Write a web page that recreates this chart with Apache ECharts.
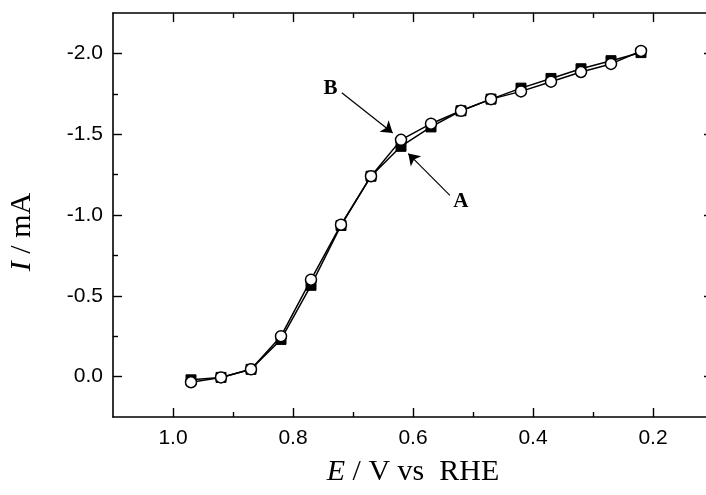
<!DOCTYPE html>
<html>
<head>
<meta charset="utf-8">
<script src="https://cdn.jsdelivr.net/npm/echarts@6/dist/echarts.min.js"></script>
<style>html,body{margin:0;padding:0;background:#fff;}#c{width:706px;height:495px;}</style>
</head>
<body>
<div id="c"></div>
<script>
// Data
const potentials = [0.97, 0.92, 0.87, 0.82, 0.77, 0.72, 0.67, 0.62, 0.57, 0.52, 0.47, 0.42, 0.37, 0.32, 0.27, 0.22];
const currentA = [0.02, 0.005, -0.045, -0.23, -0.565, -0.935, -1.24, -1.425, -1.545, -1.645, -1.717, -1.785, -1.845, -1.905, -1.955, -2.005];
const currentB = [0.035, 0.005, -0.045, -0.25, -0.60, -0.94, -1.24, -1.465, -1.565, -1.645, -1.717, -1.765, -1.825, -1.885, -1.935, -2.015];
const xMajorTicks = [0.2, 0.4, 0.6, 0.8, 1.0];
const xMinorTicks = [0.3, 0.5, 0.7, 0.9];
const yMajorTicks = [-2.0, -1.5, -1.0, -0.5, 0.0];
const yMinorTicks = [-1.75, -1.25, -0.75, -0.25];
const arrowB = [[0.7187, -1.7565], [0.6338, -1.508]];
const arrowA = [[0.5385, -1.121], [0.6079, -1.380]];
const labelB = [0.7374, -1.7826];
const labelA = [0.5201, -1.0839];

const chart = echarts.init(document.getElementById('c'), null, {renderer: 'canvas'});
const X_MIN = 0.1, X_MAX = 1.1, Y_MIN = -2.25, Y_MAX = 0.25;
const lineStyle = {color: '#000', width: 1.6};
const serif = 'Liberation Serif';
const sans = 'Liberation Sans';
const TITLE_SIZE = 30;

function axis(position, opts) {
  const a = {
    type: 'value', position: position, inverse: true,
    splitLine: {show: false},
    axisLine: {show: !!opts.line, onZero: false, lineStyle: lineStyle},
    axisTick: {show: true, inside: true, length: opts.len, customValues: opts.ticks, lineStyle: {color: '#000', width: 1.4}},
    axisLabel: {show: false},
    silent: true
  };
  if (opts.labels) {
    a.axisLabel = {show: true, customValues: opts.ticks, margin: opts.margin, color: '#000',
      fontFamily: sans, fontSize: 21, formatter: v => v.toFixed(1)};
  }
  return a;
}

const titleStyle = {fontFamily: serif, fontSize: TITLE_SIZE, color: '#000'};
const italic = {fontFamily: serif, fontStyle: 'italic', fontSize: TITLE_SIZE, color: '#000'};

const xAxes = [
  Object.assign(axis('bottom', {line: true, len: 9, ticks: xMajorTicks, labels: true, margin: 11}), {
    name: '{i|E} / V vs  RHE', nameLocation: 'middle', nameGap: 40,
    nameTextStyle: Object.assign({rich: {i: italic}}, titleStyle)
  }),
  axis('bottom', {line: false, len: 5, ticks: xMinorTicks}),
  axis('top', {line: true, len: 9, ticks: xMajorTicks}),
  axis('top', {line: false, len: 5, ticks: xMinorTicks})
];
xAxes.forEach(a => { a.min = X_MIN; a.max = X_MAX; a.interval = 0.1; });

const yAxes = [
  Object.assign(axis('left', {line: true, len: 9, ticks: yMajorTicks, labels: true, margin: 10}), {
    name: '{i|I} / mA', nameLocation: 'middle', nameGap: 76, nameRotate: 90,
    nameTextStyle: Object.assign({rich: {i: italic}, padding: [0, 34, 0, 0]}, titleStyle)
  }),
  axis('left', {line: false, len: 5, ticks: yMinorTicks}),
  axis('right', {line: true, len: 9, ticks: yMajorTicks}),
  axis('right', {line: false, len: 5, ticks: yMinorTicks})
];
yAxes.forEach(a => { a.min = Y_MIN; a.max = Y_MAX; a.interval = 0.25; });

const toPairs = (xs, ys) => xs.map((x, i) => [x, ys[i]]);
const annLabel = {show: true, position: 'inside', color: '#000', fontFamily: serif, fontWeight: 'bold', fontSize: 21};

function arrowLine(pts) {
  return {
    silent: true, symbol: ['none', 'arrow'], symbolSize: 11,
    itemStyle: {color: '#000'},
    lineStyle: {color: '#000', width: 1.2, type: 'solid'}, label: {show: false},
    emphasis: {disabled: true},
    data: [[{coord: pts[0], symbol: 'none'}, {coord: pts[1], symbol: 'arrow', symbolSize: 11}]]
  };
}
function textMark(pt, text) {
  return {
    silent: true, symbol: 'circle', symbolSize: 1, itemStyle: {color: 'rgba(0,0,0,0)'},
    label: annLabel, data: [{coord: pt, value: text, label: {formatter: text}}]
  };
}

chart.setOption({
  animation: false,
  backgroundColor: '#fff',
  grid: {left: 113, top: 13, right: -7, bottom: 78, containLabel: false, outerBoundsMode: 'none'},
  xAxis: xAxes,
  yAxis: yAxes,
  series: [
    {
      name: 'A', type: 'line', data: toPairs(potentials, currentA),
      symbol: 'rect', symbolSize: 10, showAllSymbol: true,
      lineStyle: {color: '#000', width: 1.5},
      itemStyle: {color: '#000', borderColor: '#000', borderWidth: 1},
      markLine: arrowLine(arrowA),
      markPoint: textMark(labelA, 'A')
    },
    {
      name: 'B', type: 'line', data: toPairs(potentials, currentB),
      symbol: 'circle', symbolSize: 11, showAllSymbol: true,
      lineStyle: {color: '#000', width: 1.5},
      itemStyle: {color: '#fff', borderColor: '#000', borderWidth: 1.5},
      markLine: arrowLine(arrowB),
      markPoint: textMark(labelB, 'B')
    }
  ]
});
</script>
</body>
</html>
